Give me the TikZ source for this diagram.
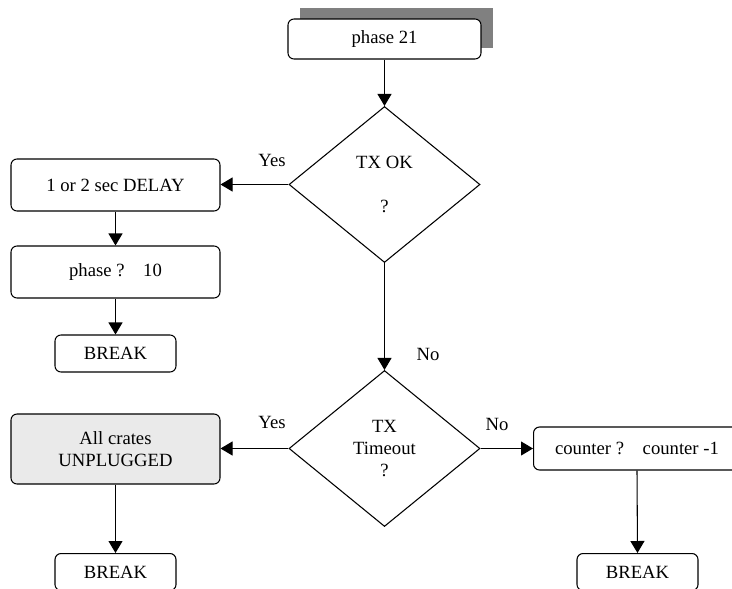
\documentclass[tikz,border=0pt]{standalone}
\usepackage{fontspec}
\setmainfont{Liberation Serif}
\usetikzlibrary{shapes.geometric,arrows.meta}
\definecolor{shadowgray}{RGB}{128,128,128}
\definecolor{softgray}{RGB}{234,234,234}
\begin{document}
\begin{tikzpicture}[x=0.75pt,y=-0.75pt,
  every node/.style={font=\fontsize{14}{16.5}\selectfont, text=black},
  proc/.style={draw, rounded corners=4.5pt, line width=0.8pt, inner sep=0pt, align=center},
  wide/.style={minimum width=156.75pt},
  brk/.style={proc, minimum width=90.75pt, minimum height=27.75pt},
  decision/.style={draw, diamond, line width=0.8pt, inner sep=0pt,
    minimum width=143.25pt, minimum height=117pt, align=center},
  flow/.style={-{Triangle[length=9pt,width=10.5pt]}, line width=0.8pt},
  lbl/.style={inner sep=0pt}]
\clip (0,0) rectangle (732,589);

% start block with its grey backdrop
\node[fill=shadowgray, inner sep=0pt, minimum width=144.75pt, minimum height=30pt] (back) at (396.5,28) {};
\node[proc, fill=white, minimum width=144.75pt, minimum height=30pt] (start) at (384.5,39) {phase 21};

% first test
\node[decision] (txok) at (384.5,184.5) {TX OK\\[17pt]?};
\node[proc, wide, minimum height=39pt] (delay) at (115.5,185) {1 or 2 sec DELAY};
\node[proc, wide, minimum height=39pt] (setph) at (115.5,272) {phase ?\quad 10};
\node[brk] (brkA) at (115.5,353.5) {BREAK};

% second test
\node[decision] (tmo) at (384.5,448.5) {TX\\Timeout\\?};
\node[proc, wide, minimum height=52.5pt, fill=softgray] (unplug) at (115.5,449) {All crates\\UNPLUGGED};
\node[brk, anchor=north] (brkB) at (115.5,553) {BREAK};
\node[proc, anchor=west, minimum width=200pt, minimum height=32.25pt] (count) at (533,448.5) {};
\node[inner sep=0pt] (counttext) at (637,448.5) {counter ?\quad counter -1};
\node[brk, anchor=north] (brkC) at (637.5,553) {BREAK};

% branch labels
\node[lbl] (yesA) at (272,160) {Yes};
\node[lbl] (noA) at (428,354) {No};
\node[lbl] (yesB) at (272,422) {Yes};
\node[lbl] (noB) at (497,424) {No};

% connectors
\draw[flow] (start.south) -- (txok.north);
\draw[flow] (txok.west) -- (delay.east |- txok.west);
\draw[flow] (delay.south) -- (setph.north);
\draw[flow] (setph.south) -- (brkA.north);
\draw[flow] (txok.south) -- (tmo.north);
\draw[flow] (tmo.west) -- (unplug.east |- tmo.west);
\draw[flow] (unplug.south) -- (brkB.north);
\draw[flow] (tmo.east) -- (count.west |- tmo.east);
\draw[flow] (counttext |- count.south) -- (brkC.north);
\end{tikzpicture}
\end{document}
